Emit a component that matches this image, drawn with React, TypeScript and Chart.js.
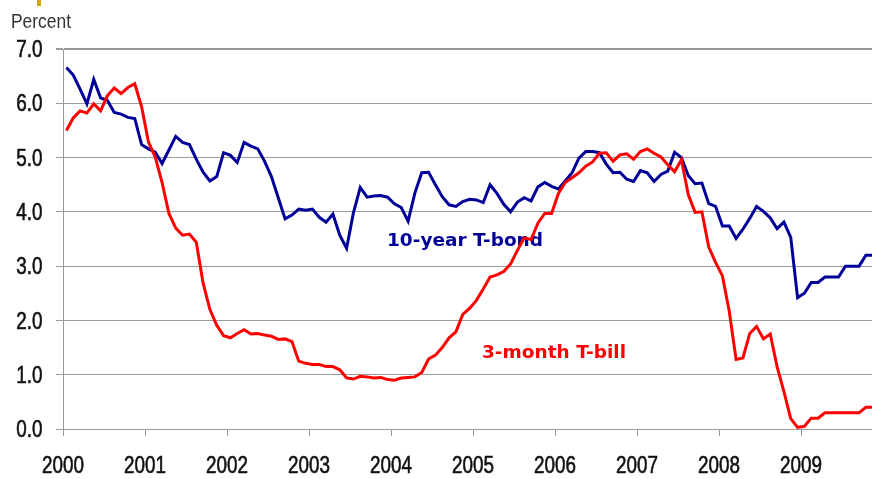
import React, { useEffect, useRef } from 'react';
import { Chart, registerables } from 'chart.js';

Chart.register(...registerables);

// Monthly data, Jan 2000 - Nov 2009 (percent)
const START_YEAR = 2000;

const tenYearBond = [
  // 2000
  6.66, 6.52, 6.26, 5.99, 6.44, 6.10, 6.05, 5.83, 5.80, 5.74, 5.72, 5.24,
  // 2001
  5.16, 5.10, 4.89, 5.14, 5.39, 5.28, 5.24, 4.97, 4.73, 4.57, 4.65, 5.09,
  // 2002
  5.04, 4.91, 5.28, 5.21, 5.16, 4.93, 4.65, 4.26, 3.87, 3.94, 4.05, 4.03,
  // 2003
  4.05, 3.90, 3.81, 3.96, 3.57, 3.33, 3.98, 4.45, 4.27, 4.29, 4.30, 4.27,
  // 2004
  4.15, 4.08, 3.83, 4.35, 4.72, 4.73, 4.50, 4.28, 4.13, 4.10, 4.19, 4.23,
  // 2005
  4.22, 4.17, 4.50, 4.34, 4.14, 4.00, 4.18, 4.26, 4.20, 4.46, 4.54, 4.47,
  // 2006
  4.42, 4.57, 4.72, 4.99, 5.11, 5.11, 5.09, 4.88, 4.72, 4.73, 4.60, 4.56,
  // 2007
  4.76, 4.72, 4.56, 4.69, 4.75, 5.10, 5.00, 4.67, 4.52, 4.53, 4.15, 4.10,
  // 2008
  3.74, 3.74, 3.51, 3.68, 3.88, 4.10, 4.01, 3.89, 3.69, 3.81, 3.53, 2.42,
  // 2009
  2.50, 2.70, 2.70, 2.80, 2.80, 2.80, 3.00, 3.00, 3.00, 3.20, 3.20,
];

const threeMonthBill = [
  // 2000
  5.50, 5.73, 5.86, 5.82, 5.99, 5.86, 6.14, 6.28, 6.18, 6.29, 6.36, 5.94,
  // 2001
  5.29, 5.01, 4.54, 3.97, 3.70, 3.57, 3.59, 3.44, 2.69, 2.20, 1.91, 1.72,
  // 2002
  1.68, 1.76, 1.83, 1.75, 1.76, 1.73, 1.71, 1.65, 1.66, 1.61, 1.25, 1.21,
  // 2003
  1.19, 1.19, 1.15, 1.15, 1.09, 0.94, 0.92, 0.97, 0.96, 0.94, 0.95, 0.91,
  // 2004
  0.90, 0.94, 0.95, 0.96, 1.04, 1.29, 1.36, 1.50, 1.68, 1.79, 2.11, 2.22,
  // 2005
  2.37, 2.58, 2.80, 2.84, 2.90, 3.04, 3.29, 3.52, 3.49, 3.79, 3.97, 3.97,
  // 2006
  4.34, 4.54, 4.63, 4.72, 4.84, 4.92, 5.08, 5.09, 4.93, 5.05, 5.07, 4.97,
  // 2007
  5.11, 5.16, 5.08, 5.01, 4.87, 4.74, 4.96, 4.32, 3.99, 4.00, 3.35, 3.07,
  // 2008
  2.82, 2.17, 1.28, 1.31, 1.76, 1.89, 1.66, 1.75, 1.15, 0.69, 0.19, 0.03,
  // 2009
  0.05, 0.20, 0.20, 0.30, 0.30, 0.30, 0.30, 0.30, 0.30, 0.40, 0.40,
];

const yearTicks = [2000, 2001, 2002, 2003, 2004, 2005, 2006, 2007, 2008, 2009];
const percentTicks = [0, 1, 2, 3, 4, 5, 6, 7];

const seriesNames = ['10-year T-bond', '3-month T-bill'];
const axisTitle = 'Percent';

const BLUE = '#000099';
const RED = '#FF0000';
const GRID = '#9a9a9a';
const SANS = "'Liberation Sans', Arial, sans-serif";
const NARROW_SCALE = 0.82;

const toPoints = (vals: number[]) =>
  vals.map((v, i) => ({ x: START_YEAR + i / 12 + 1 / 24, y: v }));

// Draw text horizontally condensed (the reference uses a narrow face)
function narrowText(ctx: any, text: string, x: number, y: number, align: 'left' | 'right' | 'center', scale: number, stroke = 0) {
  ctx.save();
  ctx.translate(x, y);
  ctx.scale(scale, 1);
  ctx.textAlign = align;
  ctx.textBaseline = 'alphabetic';
  ctx.fillText(text, 0, 0);
  if (stroke > 0) {
    ctx.lineWidth = stroke;
    ctx.strokeStyle = ctx.fillStyle;
    ctx.strokeText(text, 0, 0);
  }
  ctx.restore();
}

const labelPlugin = {
  id: 'seriesLabels',
  beforeDatasetsDraw(chart: any) {
    const ctx = chart.ctx;
    ctx.save();
    ctx.textAlign = 'left';
    ctx.textBaseline = 'alphabetic';
    ctx.font = "bold 18.5px 'DejaVu Sans', sans-serif";
    ctx.fillStyle = BLUE;
    ctx.fillText(seriesNames[0], 387, 246);
    ctx.fillStyle = RED;
    ctx.fillText(seriesNames[1], 482, 358);
    ctx.restore();
  },
  afterDraw(chart: any) {
    const ctx = chart.ctx;
    const xs = chart.scales.x;
    const ys = chart.scales.y;
    ctx.save();
    ctx.fillStyle = '#333333';
    ctx.font = `20px ${SANS}`;
    narrowText(ctx, axisTitle, 11, 28, 'left', 0.87);
    ctx.fillStyle = '#111111';
    ctx.font = `23px ${SANS}`;
    percentTicks.forEach((v) => {
      const py = ys.getPixelForValue(v);
      narrowText(ctx, v.toFixed(1), 42.5, py + 8.2, 'right', NARROW_SCALE, 0.6);
    });
    yearTicks.forEach((v) => {
      const px = xs.getPixelForValue(v);
      narrowText(ctx, String(v), px, 473, 'center', NARROW_SCALE, 0.6);
    });
    ctx.restore();
  },
};

export default function App() {
  const canvasRef = useRef<HTMLCanvasElement | null>(null);

  useEffect(() => {
    const canvas = canvasRef.current;
    if (!canvas) return;
    const chart = new Chart(canvas, {
      type: 'line',
      data: {
        datasets: [
          {
            label: seriesNames[1],
            data: toPoints(threeMonthBill),
            borderColor: RED,
            backgroundColor: RED,
            borderWidth: 3,
            pointRadius: 0,
            tension: 0,
          },
          {
            label: seriesNames[0],
            data: toPoints(tenYearBond),
            borderColor: BLUE,
            backgroundColor: BLUE,
            borderWidth: 3,
            pointRadius: 0,
            tension: 0,
          },
        ],
      },
      options: {
        responsive: false,
        animation: false,
        devicePixelRatio: 1,
        layout: { padding: { top: 49, left: 0, right: 0, bottom: 0 } },
        plugins: {
          legend: { display: false },
          tooltip: { enabled: false },
        },
        scales: {
          x: {
            type: 'linear',
            min: 2000,
            max: 2000 + 809 / 82,
            afterBuildTicks: (scale: any) => {
              scale.ticks = yearTicks.map((v) => ({ value: v }));
            },
            afterFit: (scale: any) => {
              scale.height = 50;
            },
            grid: {
              drawOnChartArea: false,
              drawTicks: true,
              tickLength: 7,
              color: GRID,
            },
            border: { display: true, color: GRID, width: 1 },
            ticks: { display: false },
          },
          y: {
            type: 'linear',
            min: 0,
            max: 7,
            afterBuildTicks: (scale: any) => {
              scale.ticks = percentTicks.map((v) => ({ value: v }));
            },
            afterFit: (scale: any) => {
              scale.width = 63;
            },
            grid: {
              drawOnChartArea: true,
              drawTicks: true,
              tickLength: 7,
              color: GRID,
              lineWidth: (c: any) => (c.tick && c.tick.value === 7 ? 2 : 1),
            },
            border: { display: true, color: GRID, width: 1 },
            ticks: { display: false },
          },
        },
      },
      plugins: [labelPlugin],
    });
    return () => chart.destroy();
  }, []);

  return (
    <div style={{ position: 'fixed', left: 0, top: 0, width: 872, height: 479, background: '#fff' }}>
      <div style={{ position: 'absolute', left: 37, top: 0, width: 4, height: 6, background: '#D4A21A' }} />
      <canvas ref={canvasRef} width={872} height={479} style={{ display: 'block' }} />
    </div>
  );
}
